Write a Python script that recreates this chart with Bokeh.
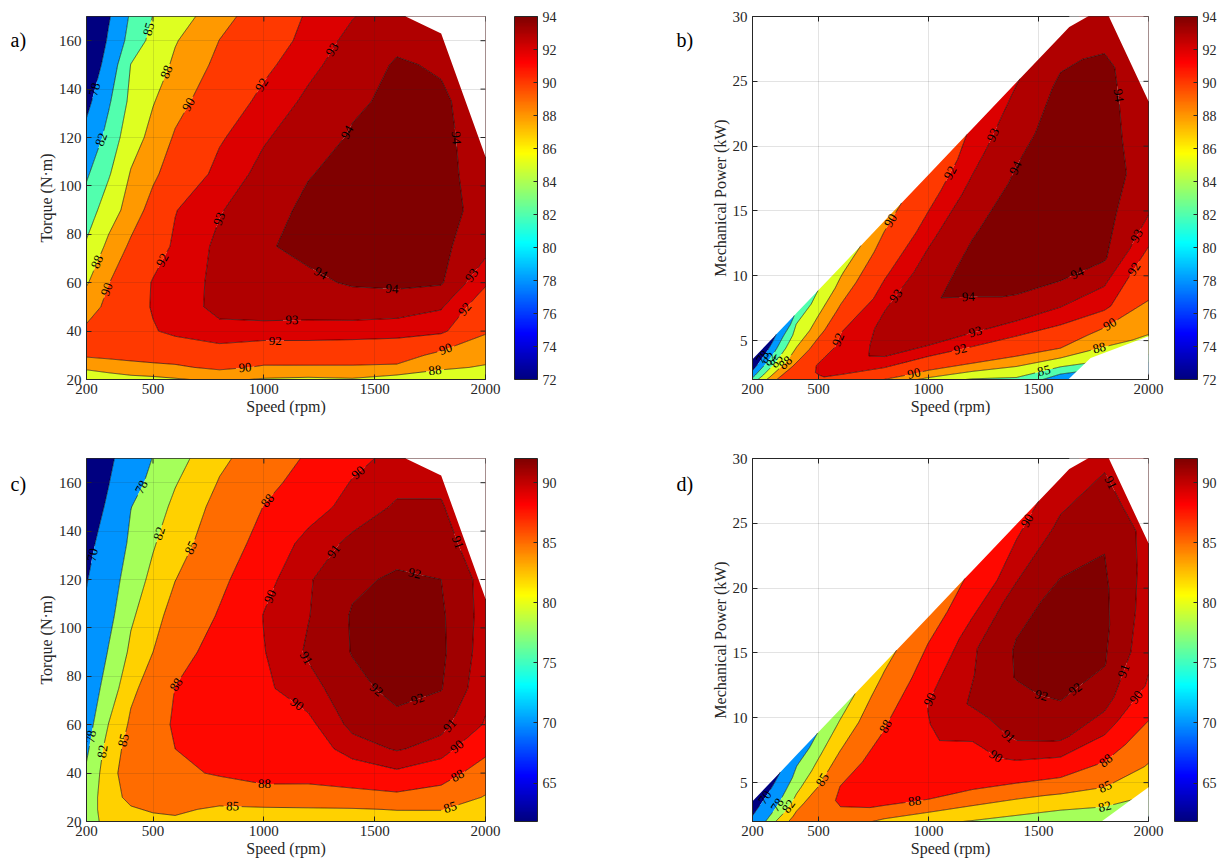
import numpy as np
import contourpy
from bokeh.plotting import figure
from bokeh.layouts import row, column
from bokeh.models import ColorBar, LinearColorMapper, FixedTicker
from bokeh.embed import file_html
from bokeh.resources import INLINE
from bokeh.core.properties import value

# ------------------------------------------------------------------ data
speed_rpm = [200, 300, 400, 500, 600, 800, 1000, 1200, 1400, 1600, 1800, 2000]

# motor 1 (panels a, b): efficiency (%) on a speed x torque grid
torque_a = [10, 20, 25, 30, 40, 50, 60, 75, 90, 105, 120, 135, 150, 160, 170]
eff_a = [
    [80.0, 80.5, 81.0, 81.0, 81.0, 80.5, 80.0, 80.5, 82.5, 78.0, 77.0, 76.0],
    [86.8, 87.0, 87.3, 87.5, 87.8, 88.4, 87.8, 87.6, 87.8, 87.0, 86.6, 86.3],
    [88.3, 88.8, 89.3, 89.5, 89.7, 90.4, 89.8, 89.8, 89.8, 89.7, 88.35, 87.8],
    [90.3, 90.5, 90.6, 90.8, 90.9, 91.3, 90.9, 90.9, 90.9, 90.8, 89.5, 88.7],
    [90.4, 90.9, 91.2, 91.9, 92.3, 92.75, 92.7, 92.7, 92.6, 92.5, 92.3, 90.2],
    [89.1, 90.5, 91.4, 92.1, 92.55, 93.25, 93.4, 93.35, 93.5, 93.45, 93.1, 91.2],
    [87.8, 89.95, 91.1, 92.1, 92.6, 93.2, 93.6, 93.8, 94.1, 94.2, 94.1, 92.15],
    [85.4, 88.7, 90.3, 91.35, 92.2, 93.23, 93.9, 94.25, 94.35, 94.4, 94.2, 93.4],
    [83.4, 86.6, 89.15, 90.6, 91.95, 92.93, 93.63, 94.2, 94.4, 94.5, 94.3, 93.7],
    [81.6, 84.7, 88.2, 89.7, 90.8, 92.4, 93.3, 93.95, 94.3, 94.4, 94.2, 93.7],
    [79.3, 83.1, 86.8, 88.8, 90.2, 91.85, 92.9, 93.55, 94.1, 94.3, 94.2, 93.6],
    [76.9, 81.6, 85.7, 87.85, 89.4, 91.1, 92.35, 93.2, 93.85, 94.2, 94.15, 93.5],
    [74.2, 79.9, 85.07, 86.8, 88.4, 90.5, 91.7, 92.75, 93.5, 94.1, 93.9, 93.3],
    [72.7, 78.6, 83.3, 85.85, 87.85, 90.03, 91.26, 92.38, 93.3, 93.8, 93.6, 93.2],
    [72.0, 77.6, 82.5, 85.07, 86.8, 89.4, 90.95, 92.16, 92.95, 93.6, 93.4, 93.0],
]
levels_a = [78, 82, 85, 88, 90, 92, 93, 94]
cbar_a = (72, 94)
cbar_ticks_a = [72, 74, 76, 78, 80, 82, 84, 86, 88, 90, 92, 94]

# motor 2 (panels c, d)
torque_c = [10, 20, 25, 30, 40, 50, 60, 75, 90, 105, 120, 135, 150, 160, 170]
eff_c = [
    [74.0, 75.0, 76.0, 77.0, 77.5, 78.0, 79.0, 79.0, 78.5, 77.5, 78.5, 77.0],
    [80.0, 83.5, 84.3, 84.5, 84.6, 83.8, 83.6, 83.6, 83.6, 83.8, 83.8, 82.5],
    [80.0, 84.0, 84.8, 85.2, 85.4, 84.6, 84.6, 84.7, 84.8, 85.1, 85.1, 83.6],
    [79.8, 84.2, 85.5, 86.0, 86.3, 86.0, 86.9, 87.0, 87.2, 87.5, 86.9, 84.8],
    [78.6, 84.3, 86.0, 86.8, 87.4, 88.3, 88.9, 88.8, 89.3, 89.8, 89.1, 86.8],
    [77.3, 83.6, 86.0, 87.2, 88.0, 88.8, 89.3, 89.3, 90.5, 91.1, 90.6, 88.6],
    [76.2, 82.1, 85.5, 87.0, 88.3, 89.1, 89.6, 89.7, 91.3, 91.7, 91.3, 89.9],
    [74.8, 80.0, 84.4, 86.2, 88.05, 89.2, 89.8, 90.6, 91.7, 92.3, 92.05, 90.3],
    [73.3, 78.3, 82.7, 85.0, 87.1, 88.9, 89.95, 91.15, 92.05, 92.45, 92.2, 90.5],
    [71.3, 76.8, 81.5, 84.0, 86.1, 88.2, 90.05, 90.95, 92.1, 92.4, 92.15, 90.6],
    [69.6, 75.5, 80.3, 82.8, 84.95, 87.5, 89.6, 90.9, 91.8, 92.15, 92.0, 90.6],
    [67.8, 73.5, 79.0, 81.7, 83.8, 86.7, 88.8, 90.5, 91.2, 91.6, 91.3, 90.5],
    [65.5, 71.2, 77.9, 80.5, 82.7, 86.0, 88.05, 89.3, 90.55, 91.1, 91.05, 90.4],
    [63.8, 69.8, 75.8, 79.5, 81.8, 85.2, 87.4, 88.8, 90.1, 90.8, 90.9, 90.3],
    [62.0, 68.7, 73.7, 78.2, 80.8, 84.4, 86.6, 88.3, 89.6, 90.4, 90.6, 90.0],
]
levels_c = [70, 78, 82, 85, 88, 90, 91, 92]
cbar_c = (61.8, 92)
cbar_ticks_c = [65, 70, 75, 80, 85, 90]

# operating envelope: maximum torque at high speed (both motors)
cut_speed = [1640, 1800, 2000]
cut_torque = [170, 163, 112]
# lowest measured power at high speed (panels b and d)
floor_speed_b = [1635, 1737, 2000]
floor_power_b = [2.0, 3.65, 5.33]
floor_speed_d = [1786, 2000]
floor_power_d = [2.0, 4.64]

# contour label anchors (speed, y, level)
labels_a = [(233, 140, 78), (271, 119, 82), (473, 165, 85), (563, 147, 88), (654, 134, 90),
            (969, 143, 92), (1314, 156, 93), (1359, 123, 94), (1885, 120, 94), (263, 68, 88),
            (300, 57, 90), (530, 70, 92), (781, 87, 93), (1127, 42, 93), (1051, 35, 92),
            (916, 24, 90), (1245, 62, 94), (1578, 58, 94), (1772, 24, 88), (1826, 31, 90),
            (1894, 50, 92), (1898, 66, 93)]
labels_b = [(1859, 23.9, 94), (1177, 21.8, 93), (1082, 18.1, 92), (1373, 18.5, 94),
            (814, 14.4, 90), (841, 8.6, 93), (573, 5.2, 92), (1182, 8.2, 94), (1673, 10.3, 94),
            (1214, 5.6, 93), (1145, 4.3, 92), (936, 2.3, 90), (1523, 2.8, 85), (1768, 5.0, 88),
            (1827, 6.2, 90), (1918, 10.7, 92), (1923, 13.3, 93), (240, 3.8, 78), (275, 3.6, 82),
            (310, 3.4, 85), (350, 3.3, 88)]
labels_c = [(236, 130, 70), (453, 158, 78), (529, 139, 82), (674, 133, 85), (1025, 152, 88),
            (1418, 165, 90), (1296, 133, 91), (1689, 126, 92), (1864, 135, 91), (926, 117, 90),
            (597, 77, 88), (349, 54, 85), (268, 49, 82), (223, 55, 78), (1161, 86, 91),
            (1161, 70, 90), (1504, 74, 92), (1680, 74, 92), (1003, 34, 88), (859, 27, 85),
            (1883, 56, 91), (1928, 45, 90), (1892, 36, 88), (1847, 24, 85)]
labels_d = [(255, 3.87, 70), (305, 3.36, 78), (360, 3.23, 82), (512, 5.28, 85), (800, 9.4, 88),
            (1020, 11.3, 90), (1232, 6.2, 91), (1224, 4.9, 90), (944, 2.7, 88), (1482, 9.8, 92),
            (1732, 10.8, 92), (1906, 13.5, 91), (1944, 11.6, 90), (1830, 6.2, 88),
            (1815, 4.25, 85), (1808, 2.7, 82), (1450, 25.2, 90), (1836, 28.2, 91)]

panel_letters = ["a)", "b)", "c)", "d)"]

# ------------------------------------------------------------------ helpers
SERIF = "Liberation Serif"
INK = "#262626"
FRAME_H = 363
KW = 2 * np.pi / 60.0 / 1000.0   # kW per (N*m*rpm)
XT = [200, 500, 1000, 1500, 2000]
GAP = 8.5   # half length (px) of the break in a contour line under its label


def jet_hex(f):
    f = float(np.clip(f, 0.0, 1.0))
    r = np.clip(1.5 - abs(4 * f - 3), 0, 1)
    g = np.clip(1.5 - abs(4 * f - 2), 0, 1)
    b = np.clip(1.5 - abs(4 * f - 1), 0, 1)
    return "#%02x%02x%02x" % (int(round(r * 255)), int(round(g * 255)), int(round(b * 255)))


JET = [jet_hex(i / 255.0) for i in range(256)]


def contour_labels(gen, wanted, sx, sy):
    out = {"x": [], "y": [], "text": [], "angle": [], "level": []}
    for x0, y0, lv in wanted:
        best = None
        q = np.array([x0 * sx, y0 * sy])
        for ln in gen.lines(float(lv)):
            if len(ln) < 2:
                continue
            P = ln * np.array([sx, sy])
            a, b = P[:-1], P[1:]
            d = b - a
            L2 = (d ** 2).sum(1)
            L2[L2 == 0] = 1e-12
            t = np.clip(((q - a) * d).sum(1) / L2, 0, 1)
            proj = a + t[:, None] * d
            dist = np.hypot(*(proj - q).T)
            i = int(dist.argmin())
            if best is None or dist[i] < best[0]:
                best = (dist[i], proj[i], d[i])
        if best is None or best[0] > 45:
            continue
        _, pt, dv = best
        ang = np.arctan2(dv[1], dv[0])
        if ang > np.pi / 2:
            ang -= np.pi
        if ang < -np.pi / 2:
            ang += np.pi
        out["x"].append(pt[0] / sx)
        out["y"].append(pt[1] / sy)
        out["text"].append(str(lv))
        out["angle"].append(float(ang))
        out["level"].append(lv)
    return out


def gapped_lines(gen, levels, lab, sx, sy):
    xs_out, ys_out = [], []
    for lv in levels:
        cen = np.array([(x * sx, y * sy) for x, y, l in zip(lab["x"], lab["y"], lab["level"])
                        if l == lv]).reshape(-1, 2)
        for ln in gen.lines(float(lv)):
            if len(ln) < 2:
                continue
            P = ln * np.array([sx, sy])
            pts = [P[:1]]
            for a, b in zip(P[:-1], P[1:]):
                n = max(int(np.hypot(*(b - a)) / 1.0), 1)
                k = np.arange(1, n + 1)[:, None] / n
                pts.append(a + (b - a) * k)
            pts = np.vstack(pts)
            if len(cen):
                dmin = np.min(np.hypot(pts[:, None, 0] - cen[None, :, 0],
                                       pts[:, None, 1] - cen[None, :, 1]), axis=1)
                keep = dmin > GAP
            else:
                keep = np.ones(len(pts), bool)
            run = []
            for pnt, k in zip(pts, keep):
                if k:
                    run.append(pnt)
                else:
                    if len(run) > 1:
                        r = np.array(run)
                        xs_out.append(list(r[:, 0] / sx))
                        ys_out.append(list(r[:, 1] / sy))
                    run = []
            if len(run) > 1:
                r = np.array(run)
                xs_out.append(list(r[:, 0] / sx))
                ys_out.append(list(r[:, 1] / sy))
    return xs_out, ys_out


def style_axis(ax, ticks, label, tick_standoff):
    ax.ticker = FixedTicker(ticks=ticks)
    ax.major_tick_in = 5
    ax.major_tick_out = 0
    ax.minor_tick_line_color = None
    ax.major_tick_line_color = INK
    ax.axis_line_color = INK
    ax.major_label_text_font = SERIF
    ax.major_label_text_font_size = "15px"
    ax.major_label_text_color = INK
    ax.major_label_standoff = tick_standoff
    ax.axis_label = label
    ax.axis_label_text_font = SERIF
    ax.axis_label_text_font_size = "16px"
    ax.axis_label_text_font_style = "normal"
    ax.axis_label_text_color = INK
    ax.axis_label_standoff = 1


def make_panel(X, Y, Z, levels, crange, cticks, yr, yticks, ylabel, wanted, masks,
               fw, left, right, top, bottom, cb_x):
    cmin, cmax = crange
    p = figure(frame_width=fw, frame_height=FRAME_H, x_range=(200, 2000), y_range=yr,
               output_backend="svg", toolbar_location=None,
               min_border_left=left, min_border_right=right,
               min_border_top=top, min_border_bottom=bottom,
               background_fill_color="white", border_fill_color="white",
               outline_line_color=INK, outline_line_width=1)
    sx = fw / 1800.0
    sy = FRAME_H / float(yr[1] - yr[0])

    lv_all = [0.0] + [float(v) for v in levels] + [200.0]
    band_cols = []
    for lv in lv_all[:-1]:
        f = (min(max(lv, cmin), cmax) - cmin) / (cmax - cmin)
        band_cols.append(JET[int(round(f * 255))])
    p.contour(X, Y, Z, levels=lv_all, fill_color=band_cols, line_color=None)

    gen = contourpy.contour_generator(X, Y, Z, line_type="Separate")
    lab = contour_labels(gen, wanted, sx, sy)
    lxs, lys = gapped_lines(gen, levels, lab, sx, sy)
    p.multi_line(lxs, lys, line_color="black", line_width=0.6)

    for mx, my in masks:
        p.patch(mx, my, fill_color="white", line_color=None)

    p.text(x=lab["x"], y=lab["y"], text=lab["text"], angle=lab["angle"],
           text_font=value(SERIF), text_font_size="13px", text_color="black",
           text_align="center", text_baseline="middle")

    style_axis(p.xaxis[0], XT, "Speed (rpm)", 4)
    style_axis(p.yaxis[0], yticks, ylabel, 5)

    # inward ticks mirrored on the top and right edges of the box
    tick_len_x = 5.0 / sx
    tick_len_y = 5.0 / sy
    p.segment(x0=XT, y0=[yr[1]] * len(XT), x1=XT, y1=[yr[1] - tick_len_y] * len(XT),
              line_color=INK, line_width=1)
    p.segment(x0=[2000] * len(yticks), y0=yticks, x1=[2000 - tick_len_x] * len(yticks),
              y1=yticks, line_color=INK, line_width=1)

    p.xgrid.ticker = FixedTicker(ticks=XT)
    p.ygrid.ticker = FixedTicker(ticks=yticks)
    p.grid.grid_line_color = INK
    p.grid.grid_line_alpha = 0.13
    p.grid.level = "overlay"

    cm = LinearColorMapper(palette=JET, low=cmin, high=cmax)
    cb = ColorBar(color_mapper=cm, ticker=FixedTicker(ticks=cticks), width=23,
                  height=FRAME_H, location=(cb_x, 0), padding=0, margin=0,
                  major_tick_in=4, major_tick_out=0, major_tick_line_color=INK,
                  minor_tick_line_color=None, bar_line_color=INK,
                  major_label_text_font=SERIF, major_label_text_font_size="14px",
                  major_label_text_color=INK, label_standoff=5,
                  background_fill_color=None, border_line_color=None)
    p.add_layout(cb, "right")
    return p


def letter_strip(letter, width, height, x_px, baseline_px):
    f = figure(width=width, height=height, x_range=(0, width), y_range=(0, height),
               output_backend="svg", toolbar_location=None, x_axis_type=None,
               y_axis_type=None, min_border=0, outline_line_color=None,
               title_location=None,
               background_fill_color="white", border_fill_color="white")
    f.grid.visible = False
    f.text(x=[x_px], y=[height - baseline_px], text=[letter], text_font=value(SERIF),
           text_font_size="20px", text_color="black", text_align="left",
           text_baseline="alphabetic")
    return f


# ------------------------------------------------------------------ grids
Na, Ta = np.meshgrid(np.array(speed_rpm, float), np.array(torque_a, float))
Za = np.array(eff_a, float)
Pa = Ta * Na * KW
Nc, Tc = np.meshgrid(np.array(speed_rpm, float), np.array(torque_c, float))
Zc = np.array(eff_c, float)
Pc = Tc * Nc * KW

cut_mask_t = (cut_speed + [2100, 2100, cut_speed[0]],
              cut_torque + [cut_torque[-1], 200, 200])
cut_power = [t * n * KW for t, n in zip(cut_torque, cut_speed)]
cut_mask_p = (cut_speed + [2100, 2100, cut_speed[0]],
              cut_power + [cut_power[-1], 40, 40])
floor_mask_b = (floor_speed_b + [2100, 2100, floor_speed_b[0]],
                floor_power_b + [floor_power_b[-1], 0, 0])
floor_mask_d = (floor_speed_d + [2100, 2100, floor_speed_d[0]],
                floor_power_d + [floor_power_d[-1], 0, 0])

ty = [20, 40, 60, 80, 100, 120, 140, 160]
py = [5, 10, 15, 20, 25, 30]

H1 = 16 + FRAME_H + 63
H2 = 16 + FRAME_H + 39

pa = make_panel(Na, Ta, Za, levels_a, cbar_a, cbar_ticks_a, (20, 170), ty, "Torque (N\u00b7m)",
                labels_a, [cut_mask_t], 399, 52, 115, 16, 63, 29)
pb = make_panel(Na, Pa, Za, levels_a, cbar_a, cbar_ticks_a, (2, 30), py,
                "Mechanical Power (kW)", labels_b, [cut_mask_p, floor_mask_b],
                396, 52, 74, 16, 63, 26)
pc = make_panel(Nc, Tc, Zc, levels_c, cbar_c, cbar_ticks_c, (20, 170), ty, "Torque (N\u00b7m)",
                labels_c, [cut_mask_t], 399, 52, 115, 16, 39, 29)
pd = make_panel(Nc, Pc, Zc, levels_c, cbar_c, cbar_ticks_c, (2, 30), py,
                "Mechanical Power (kW)", labels_d, [cut_mask_p, floor_mask_d],
                396, 52, 74, 16, 39, 26)

la = letter_strip(panel_letters[0], 34, H1, 10, 29)
lb = letter_strip(panel_letters[1], 100, H1, 76, 29)
lc = letter_strip(panel_letters[2], 34, H2, 10, 29)
ld = letter_strip(panel_letters[3], 100, H2, 76, 29)

layout = column(row(la, pa, lb, pb), row(lc, pc, ld, pd))
open("out.html", "w").write(file_html(layout, INLINE))
